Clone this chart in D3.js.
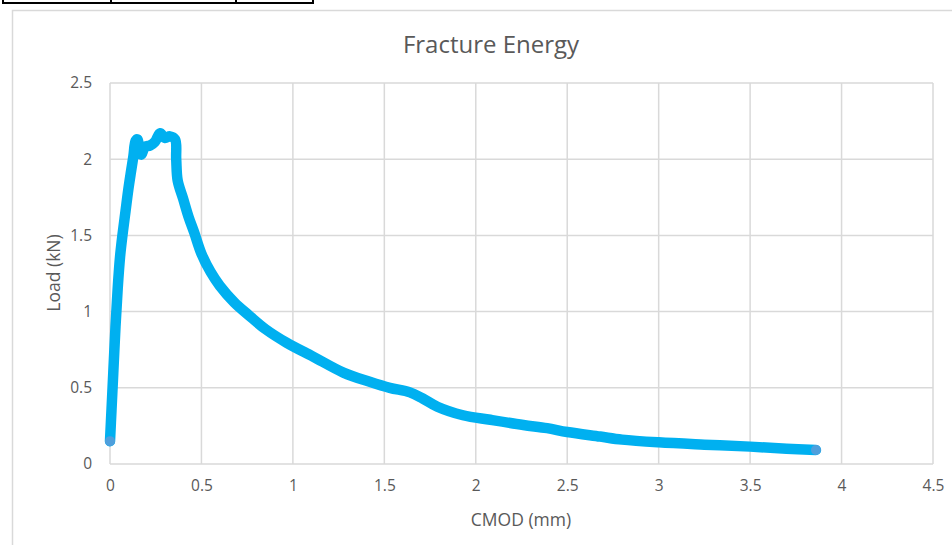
<!DOCTYPE html>
<html>
<head>
<meta charset="utf-8">
<script src="https://cdn.jsdelivr.net/npm/d3@7"></script>
<style>
  html, body { margin: 0; padding: 0; background: #fff; }
  svg { display: block; font-family: "Open Sans", "Noto Sans", sans-serif; }
</style>
</head>
<body>
<svg id="chart" width="952" height="545"></svg>
<script>
// Load vs. crack mouth opening displacement
const cmod = [0, 0.008, 0.018, 0.03, 0.042, 0.055, 0.07, 0.085, 0.1, 0.115, 0.128, 0.14, 0.15,
  0.16, 0.172, 0.19, 0.219, 0.246, 0.274, 0.30, 0.328, 0.356, 0.362, 0.37, 0.40, 0.43, 0.46,
  0.50, 0.55, 0.60, 0.68, 0.76, 0.85, 0.967, 1.11, 1.276, 1.42, 1.53, 1.64, 1.71, 1.79, 1.93,
  2.08, 2.26, 2.39, 2.5, 2.68, 2.8, 3.0, 3.25, 3.5, 3.7, 3.86];
const load = [0.15, 0.35, 0.6, 0.9, 1.15, 1.36, 1.52, 1.66, 1.8, 1.92, 2.02, 2.12, 2.13,
  2.06, 2.03, 2.08, 2.09, 2.115, 2.17, 2.14, 2.15, 2.13, 2.0, 1.86, 1.74, 1.62, 1.52,
  1.38, 1.26, 1.17, 1.06, 0.975, 0.885, 0.795, 0.705, 0.60, 0.54, 0.50, 0.47, 0.43, 0.376, 0.32,
  0.29, 0.256, 0.235, 0.21, 0.18, 0.16, 0.142, 0.127, 0.114, 0.10, 0.092];

const xTicks = [0, 0.5, 1, 1.5, 2, 2.5, 3, 3.5, 4, 4.5];
const yTicks = [0, 0.5, 1, 1.5, 2, 2.5];
const xTickLabels = ["0", "0.5", "1", "1.5", "2", "2.5", "3", "3.5", "4", "4.5"];
const yTickLabels = ["0", "0.5", "1", "1.5", "2", "2.5"];

const titleText = "Fracture Energy";
const xTitle = "CMOD (mm)";
const yTitle = "Load (kN)";

const svg = d3.select("#chart");
const textColor = "#595959";
const gridColor = "#d9d9d9";
const lineColor = "#00b0f0";

// small table edge above the chart
const tbl = svg.append("g");
tbl.append("rect").attr("x", 3).attr("y", -4).attr("width", 310).attr("height", 7)
  .attr("fill", "#fff").attr("stroke", "#000").attr("stroke-width", 2);
[111, 236].forEach(x => tbl.append("line").attr("x1", x).attr("x2", x)
  .attr("y1", 0).attr("y2", 3).attr("stroke", "#000").attr("stroke-width", 2));

// chart area frame
svg.append("path").attr("d", "M12.5,545 V10.5 H952")
  .attr("fill", "none").attr("stroke", gridColor).attr("stroke-width", 1.5);

const x = d3.scaleLinear().domain([0, 4.5]).range([110, 933]);
const y = d3.scaleLinear().domain([0, 2.5]).range([464, 83]);

// gridlines
svg.append("g").selectAll("line").data(xTicks).join("line")
  .attr("x1", d => x(d)).attr("x2", d => x(d)).attr("y1", y(2.5)).attr("y2", y(0))
  .attr("stroke", gridColor).attr("stroke-width", 1.5);
svg.append("g").selectAll("line").data(yTicks).join("line")
  .attr("x1", x(0)).attr("x2", x(4.5)).attr("y1", d => y(d)).attr("y2", d => y(d))
  .attr("stroke", gridColor).attr("stroke-width", 1.5);

// axes (labels only)
const xAxis = svg.append("g").attr("transform", `translate(0,${y(0)})`)
  .call(d3.axisBottom(x).tickValues(xTicks).tickFormat((d, i) => xTickLabels[i]).tickSize(0).tickPadding(16));
const yAxis = svg.append("g").attr("transform", `translate(${x(0)},0)`)
  .call(d3.axisLeft(y).tickValues(yTicks).tickFormat((d, i) => yTickLabels[i]).tickSize(0).tickPadding(18));
[xAxis, yAxis].forEach(a => {
  a.select(".domain").remove();
  a.selectAll("text").attr("fill", textColor).style("font-size", "15.5px")
    .style("font-family", "'Open Sans', sans-serif");
});

// series
const pts = cmod.map((c, i) => [c, load[i]]);
const line = d3.line().x(d => x(d[0])).y(d => y(d[1])).curve(d3.curveCatmullRom.alpha(0.5));
svg.append("path").datum(pts).attr("d", line)
  .attr("fill", "none").attr("stroke", lineColor).attr("stroke-width", 10.5)
  .attr("stroke-linejoin", "round").attr("stroke-linecap", "round");
[pts[0], pts[pts.length - 1]].forEach(p => svg.append("circle")
  .attr("cx", x(p[0])).attr("cy", y(p[1])).attr("r", 5).attr("fill", "#4f9fdc"));

// titles
svg.append("text").attr("x", 491).attr("y", 53).attr("text-anchor", "middle")
  .attr("fill", textColor).style("font-size", "24px").text(titleText);
svg.append("text").attr("x", 521).attr("y", 526).attr("text-anchor", "middle")
  .attr("fill", textColor).style("font-size", "17.5px").text(xTitle);
svg.append("text").attr("transform", "translate(60,273) rotate(-90)").attr("text-anchor", "middle")
  .attr("fill", textColor).style("font-size", "17.5px").text(yTitle);
</script>
</body>
</html>
